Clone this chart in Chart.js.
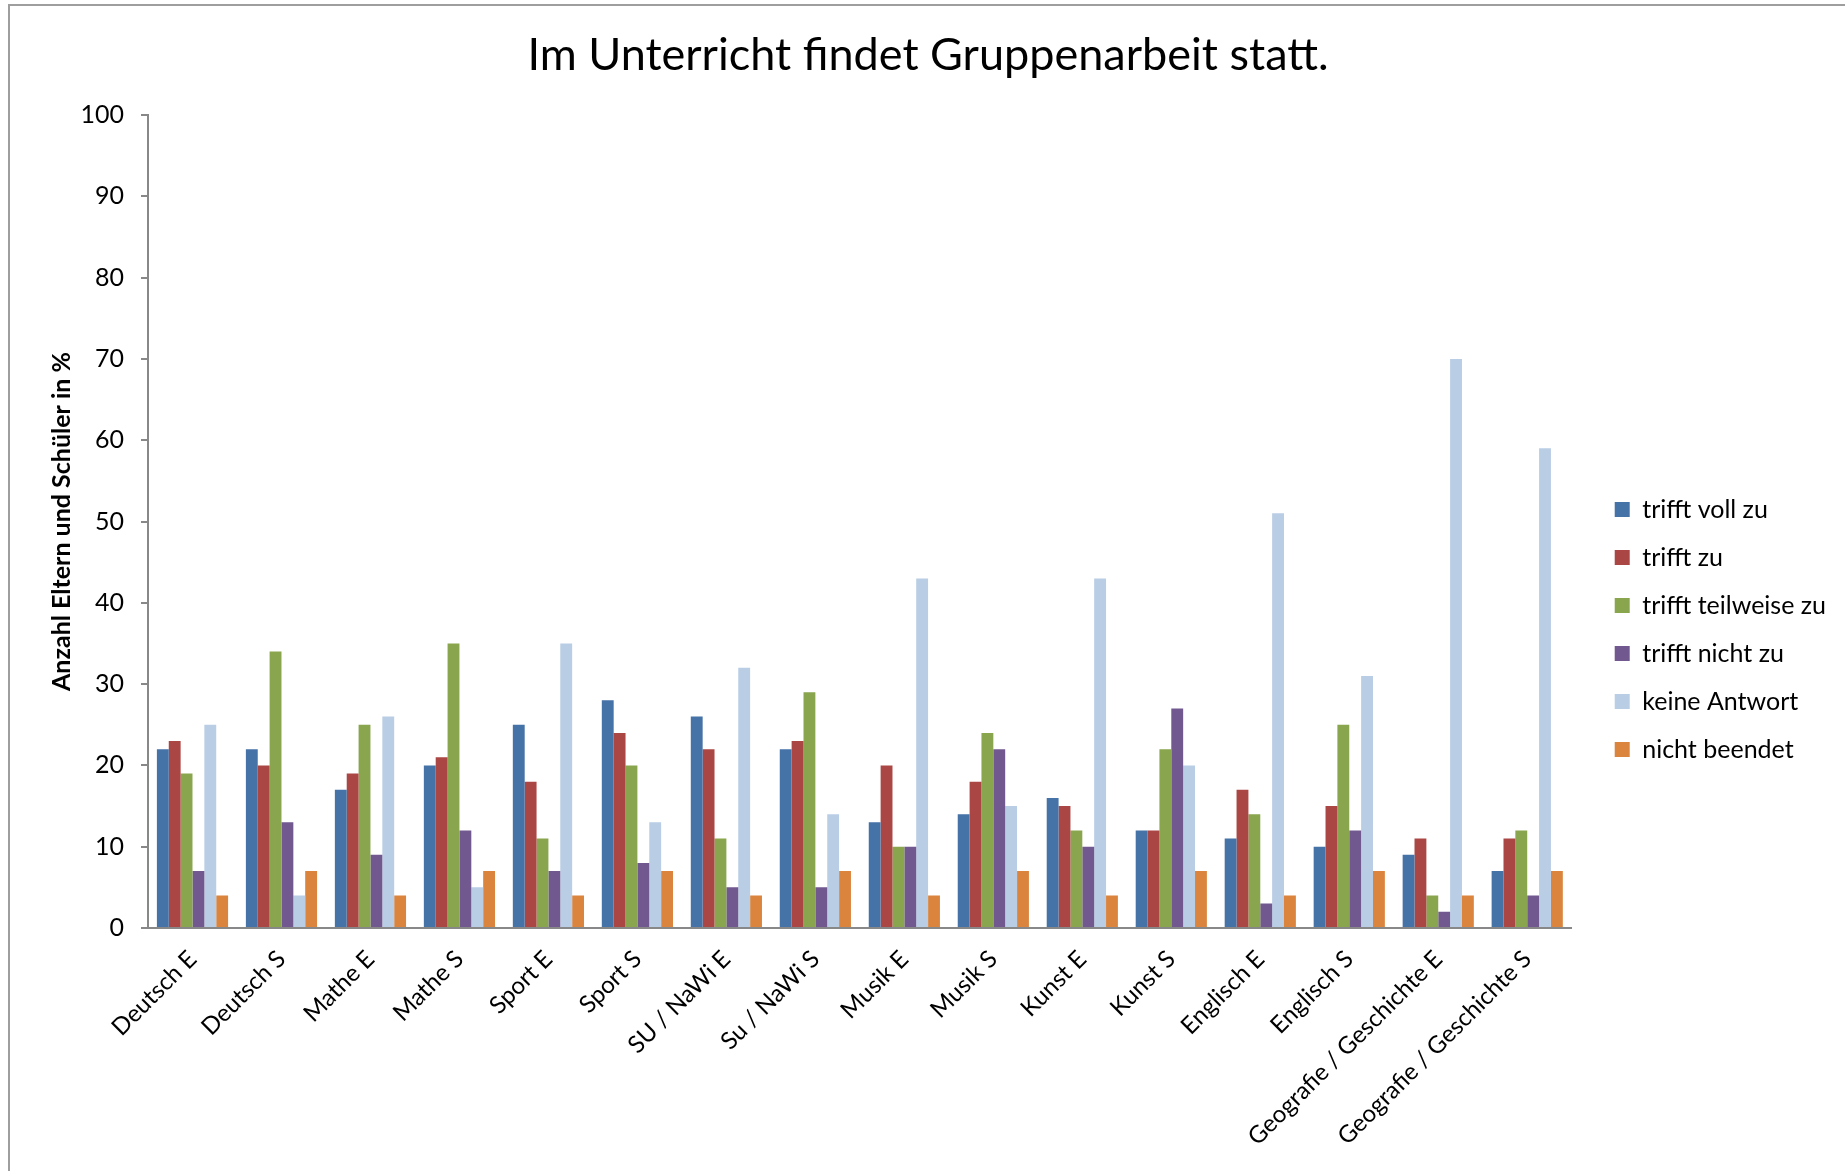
<!DOCTYPE html>
<html><head><meta charset="utf-8">
<script src="https://cdn.jsdelivr.net/npm/chart.js@4"></script>
<style>
html,body{margin:0;padding:0;background:#fff;}
#wrap{position:relative;width:1845px;height:1171px;overflow:hidden;}
#frame{position:absolute;left:8px;top:4px;right:-4px;bottom:-4px;border-top:2px solid #9e9e9e;border-left:2px solid #9e9e9e;pointer-events:none;}
canvas{display:block}
</style></head><body>
<div id="wrap"><canvas id="c" width="1845" height="1171"></canvas><div id="frame"></div></div>
<script>
const categories = ["Deutsch E","Deutsch S","Mathe E","Mathe S","Sport E","Sport S","SU / NaWi E","Su / NaWi S","Musik E","Musik S","Kunst E","Kunst S","Englisch E","Englisch S","Geografie / Geschichte E","Geografie / Geschichte S"];
const seriesNames = ["trifft voll zu","trifft zu","trifft teilweise zu","trifft nicht zu","keine Antwort","nicht beendet"];
const trifftVollZu     = [22,22,17,20,25,28,26,22,13,14,16,12,11,10,9,7];
const trifftZu         = [23,20,19,21,18,24,22,23,20,18,15,12,17,15,11,11];
const trifftTeilweise  = [19,34,25,35,11,20,11,29,10,24,12,22,14,25,4,12];
const trifftNichtZu    = [7,13,9,12,7,8,5,5,10,22,10,27,3,12,2,4];
const keineAntwort     = [25,4,26,5,35,13,32,14,43,15,43,20,51,31,70,59];
const nichtBeendet     = [4,7,4,7,4,7,4,7,4,7,4,7,4,7,4,7];
const yTickValues = [0,10,20,30,40,50,60,70,80,90,100];
const seriesColors = ["#4572A7","#AA4643","#89A54E","#71588F","#B9CDE5","#DB843D"];

const seriesValues = [trifftVollZu,trifftZu,trifftTeilweise,trifftNichtZu,keineAntwort,nichtBeendet];
const FONT = "Lato, 'Open Sans', sans-serif";

new Chart(document.getElementById('c'), {
  type: 'bar',
  data: {
    labels: categories,
    datasets: seriesNames.map((n,i)=>({
      label: n,
      data: seriesValues[i],
      backgroundColor: seriesColors[i],
      borderWidth: 0,
      categoryPercentage: 0.8,
      barPercentage: 1.0
    }))
  },
  options: {
    responsive: false,
    animation: false,
    devicePixelRatio: 1,
    layout: { padding: { left: 20, top: 0, right: 9, bottom: 0 } },
    plugins: {
      title: {
        display: true,
        text: 'Im Unterricht findet Gruppenarbeit statt.',
        color: '#000',
        font: { family: FONT, size: 45, weight: 'normal' },
        padding: { top: 28, bottom: 33 }
      },
      legend: {
        position: 'right',
        align: 'start',
        title: { display: true, text: ' ', font: { family: FONT, size: 10 }, padding: { top: 462, bottom: 0 } },
        labels: {
          color: '#000',
          font: { family: FONT, size: 25 },
          boxWidth: 15,
          boxHeight: 15,
          padding: 23
        }
      },
      tooltip: { enabled: false }
    },
    scales: {
      x: {
        grid: { display: false, drawTicks: false },
        border: { display: true, color: '#888888', width: 2 },
        ticks: {
          color: '#000',
          font: { family: FONT, size: 24 },
          maxRotation: 45, minRotation: 45,
          autoSkip: false,
          padding: 17
        },
        afterFit(s){ s.height = 243; }
      },
      y: {
        min: 0, max: 100,
        afterBuildTicks(s){ s.ticks = yTickValues.map(v=>({value:v})); },
        grid: { display: true, drawOnChartArea: false, drawTicks: true, tickLength: 7, color: '#888888', lineWidth: 2 },
        border: { display: true, color: '#888888', width: 2 },
        ticks: { color: '#000', font: { family: FONT, size: 25 }, padding: 17 },
        title: {
          display: true,
          text: 'Anzahl Eltern und Schüler in %',
          color: '#000',
          font: { family: FONT, size: 25, weight: 'bold' },
          padding: { top: 27, bottom: 0 }
        },
        afterFit(s){ s.width = 128; }
      },
      y2: {
        type: 'linear',
        position: 'right',
        display: true,
        grid: { display: false, drawTicks: false },
        border: { display: false },
        ticks: { display: false },
        afterFit(s){ s.width = 20; }
      }
    }
  }
});
</script>
</body></html>
